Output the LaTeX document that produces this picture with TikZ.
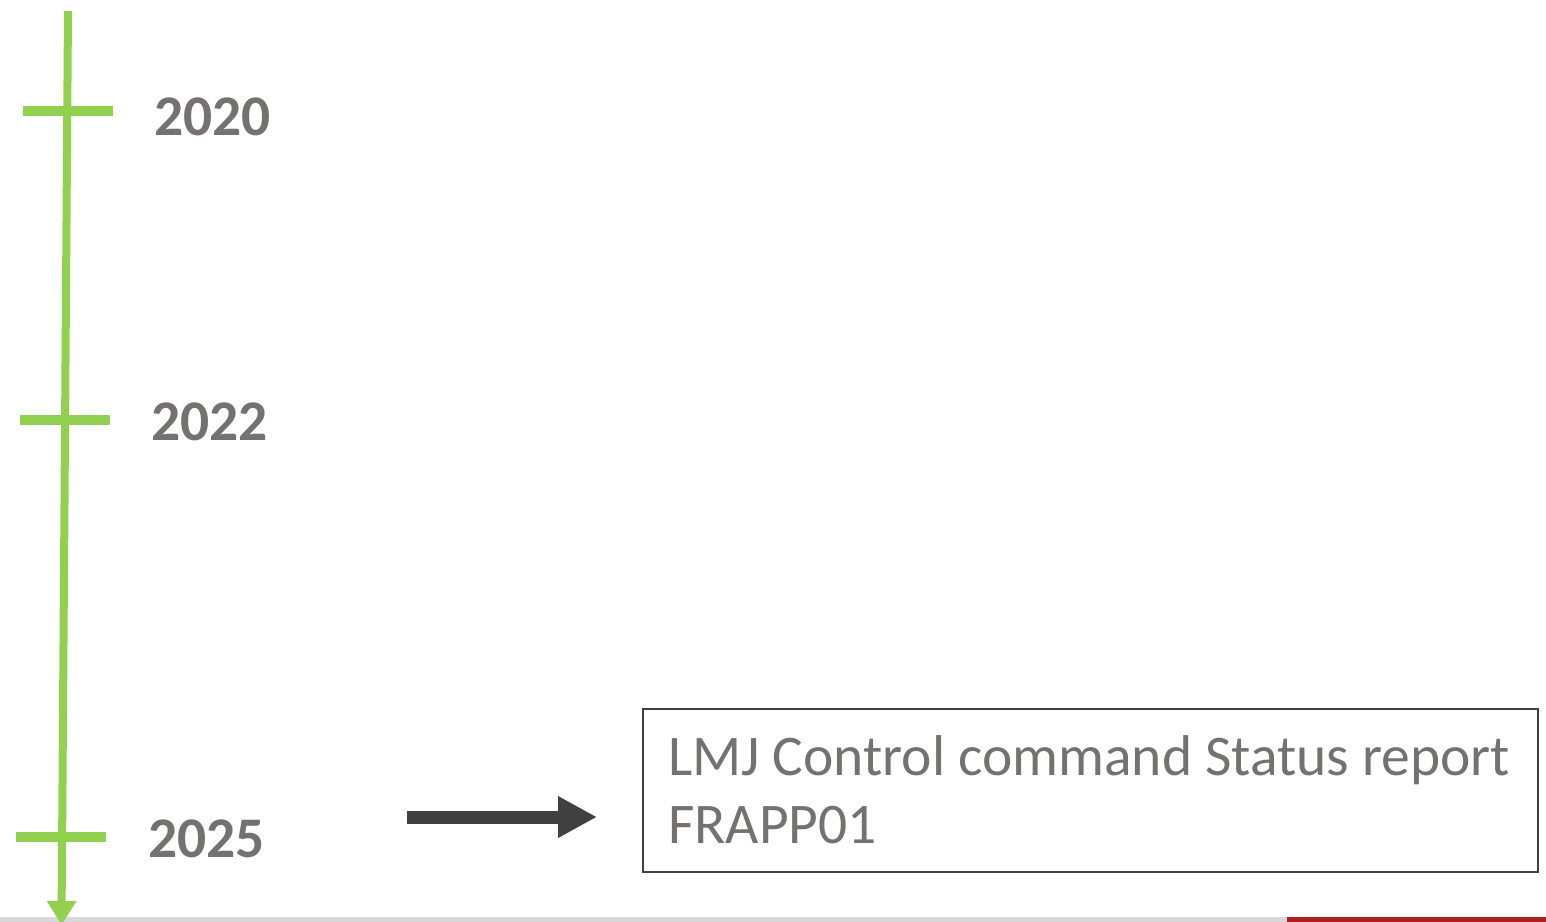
\documentclass[tikz,border=0pt]{standalone}
\usepackage{fontspec}
\setmainfont{Carlito}
\usetikzlibrary{arrows.meta}
\definecolor{tlgreen}{HTML}{92D050}
\definecolor{txtgray}{HTML}{767171}
\definecolor{darkgray}{HTML}{404040}
\definecolor{lightgray}{HTML}{D9D9D9}
\definecolor{barred}{HTML}{B01C24}
\tikzset{
  tick/.style={draw=tlgreen, line width=10pt},
  year/.style={anchor=west, text=txtgray, font=\fontsize{57.5}{60}\selectfont\bfseries, inner sep=0pt},
  infobox/.style={draw=darkgray, line width=2pt, anchor=north west, minimum width=895pt, minimum height=163pt, inner sep=0pt},
  boxtext/.style={anchor=base west, text=txtgray, font=\fontsize{57.5}{68}\selectfont, align=left, inner sep=0pt},
}
\begin{document}
\begin{tikzpicture}[x=1pt,y=-1pt]
\useasboundingbox (0,0) rectangle (1546,921);
% bottom bar
\coordinate (gl) at (0,919);
\coordinate (gr) at (1287,919);
\coordinate (rr) at (1546,919);
\draw[lightgray, line width=5pt] (gl) -- (gr);
\draw[barred, line width=5pt] (gr) -- (rr);
% timeline
\coordinate (top) at (68,11);
\coordinate (bot) at (61.5,925);
\draw[tlgreen, line width=8pt, -{Triangle[width=28pt,length=24pt]}] (top) -- (bot);
% ticks
\coordinate (t1a) at (23,111); \coordinate (t1b) at (113,111);
\coordinate (t2a) at (20,420); \coordinate (t2b) at (110,420);
\coordinate (t3a) at (16,837); \coordinate (t3b) at (106,837);
\draw[tick] (t1a) -- (t1b);
\draw[tick] (t2a) -- (t2b);
\draw[tick] (t3a) -- (t3b);
% years
\node[year] (y2020) at (154,117) {2020};
\node[year] (y2022) at (151,422) {2022};
\node[year] (y2025) at (148,839) {2025};
% box
\node[infobox] (box) at (642,708) {};
\node[boxtext] (boxtxt) at (668,843) {LMJ Control command Status report\\FRAPP01};
% arrow
\coordinate (as) at (407,817);
\coordinate (ae) at (597,817);
\draw[darkgray, line width=13pt, -{Triangle[width=39pt,length=39pt]}] (as) -- (ae);
\end{tikzpicture}
\end{document}
